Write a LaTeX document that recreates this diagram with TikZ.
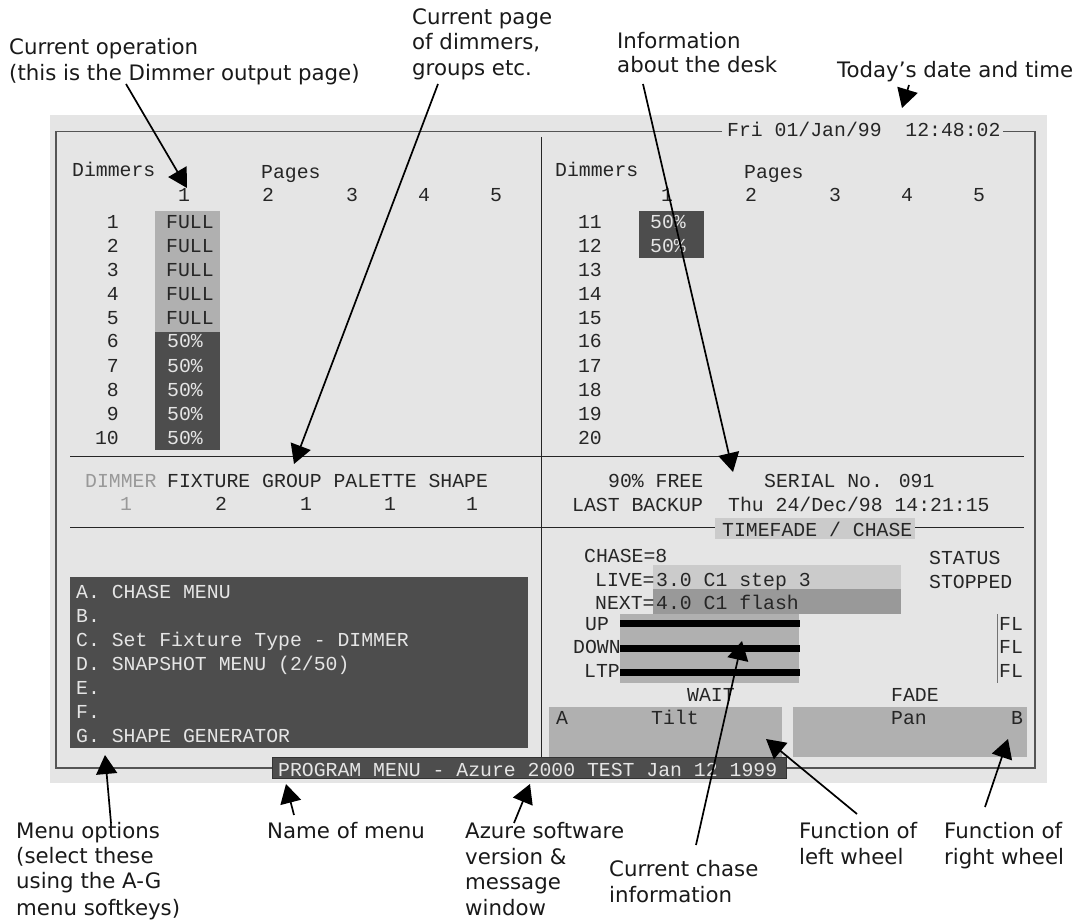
\documentclass[tikz,border=0pt]{standalone}
\usepackage{fontspec}
\setmainfont{DejaVu Sans}
\newfontfamily\scrfamily{Liberation Mono}
\usetikzlibrary{arrows.meta}
\definecolor{panelbg}{HTML}{E5E5E5}
\definecolor{lowgrey}{HTML}{B0B0B0}
\definecolor{darkgrey}{HTML}{4D4D4D}
\definecolor{livegrey}{HTML}{CBCBCB}
\definecolor{nextgrey}{HTML}{999999}
\definecolor{framegrey}{HTML}{555555}
\tikzset{
  x=1pt,y=-1pt,
  scr/.style={anchor=base west,inner sep=0pt,font=\scrfamily\fontsize{19.8}{24}\selectfont,text=black!85},
  scrw/.style={scr,text=panelbg},
  scrr/.style={scr,anchor=base east},
  lbl/.style={anchor=base west,inner sep=0pt,font=\fontsize{21.3}{25}\selectfont,text=black!90},
  rule/.style={draw=black!85,line width=0.9pt},
  framel/.style={draw=framegrey,line width=1.2pt},
  callout/.style={draw=black,line width=1.7pt,-{Triangle[length=19pt,width=21pt]},shorten <=0pt},
}
\begin{document}
\begin{tikzpicture}
\useasboundingbox (0,0) rectangle (1088,920);
% panel
\fill[panelbg] (50,115) rectangle (1047,783);
% filled areas
\fill[lowgrey] (155,211) rectangle (220,332);
\fill[darkgrey] (155,332) rectangle (220,450);
\fill[darkgrey] (639,211) rectangle (704,258);
\fill[darkgrey] (70,577) rectangle (528,748);
\fill[livegrey] (653,565) rectangle (901,589);
\fill[nextgrey] (653,589) rectangle (901,614);
\fill[lowgrey] (620,614) rectangle (799,683);
\fill[lowgrey] (549,707) rectangle (782,757);
\fill[lowgrey] (793,707) rectangle (1027,757);
% rules
\draw[framel] (722,131.5) -- (56,131.5) -- (56,768) -- (272,768);
\draw[framel] (786,768) -- (1035,768) -- (1035,131.5) -- (1003,131.5);
\draw[rule] (541,137) -- (541,757);
\draw[rule] (70,456) -- (1024,456);
\draw[rule] (70,527) -- (1024,527);
\draw[draw=black!55,line width=0.7pt] (997,614) -- (997,683);
\foreach \yy in {623,648,672} \fill[black] (620,\yy-3.5) rectangle (800,\yy+3.5);
\node[fill=livegrey,minimum width=200pt,minimum height=21pt,inner sep=0pt] (tfbox) at (815,528.5) {};
\node[fill=darkgrey,draw=black!80,line width=1pt,minimum width=514pt,minimum height=21pt,inner sep=0pt] (menubar) at (529,767.5) {};
% date
\node[scr] (date) at (727,137) {Fri 01/Jan/99~~12:48:02};
% left table
\node[scr] (dimL) at (72,177) {Dimmers};
\node[scr] (pagL) at (261,179) {Pages};
\node[scr] (pL1) at (178,202) {1};
\node[scr] (pL2) at (262,202) {2};
\node[scr] (pL3) at (346,202) {3};
\node[scr] (pL4) at (418,202) {4};
\node[scr] (pL5) at (490,202) {5};
\foreach \n/\yy in {1/229,2/253,3/277,4/301,5/325,6/348,7/372,8/396,9/420,10/444}
  \node[scrr] (rL\n) at (119,\yy) {\n};
\foreach \n/\yy in {1/229,2/253,3/277,4/301,5/325}
  \node[scr] (vL\n) at (166,\yy) {FULL};
\foreach \n/\yy in {6/348,7/372,8/396,9/420,10/444}
  \node[scrw] (vL\n) at (167,\yy) {50\%};
% right table
\node[scr] (dimR) at (555,177) {Dimmers};
\node[scr] (pagR) at (744,179) {Pages};
\node[scr] (pR1) at (661,202) {1};
\node[scr] (pR2) at (745,202) {2};
\node[scr] (pR3) at (829,202) {3};
\node[scr] (pR4) at (901,202) {4};
\node[scr] (pR5) at (973,202) {5};
\foreach \n/\yy in {11/229,12/253,13/277,14/301,15/325,16/348,17/372,18/396,19/420,20/444}
  \node[scrr] (rR\n) at (602,\yy) {\n};
\node[scrw] (vR1) at (650,229) {50\%};
\node[scrw] (vR2) at (650,253) {50\%};
% status rows
\node[scr,text=nextgrey] (sDim) at (85,487) {DIMMER};
\node[scr] (sRest) at (167,487) {FIXTURE GROUP PALETTE SHAPE};
\node[scr,text=nextgrey] (n1) at (120,510) {1};
\node[scr] (n2) at (215,510) {2};
\node[scr] (n3) at (300,510) {1};
\node[scr] (n4) at (384,510) {1};
\node[scr] (n5) at (466,510) {1};
\node[scr] (free) at (608,487) {90\% FREE};
\node[scr] (serial) at (764,487) {SERIAL No. 091};
\node[scr] (bkup) at (572,511) {LAST BACKUP};
\node[scr] (bkdate) at (728,511) {Thu 24/Dec/98 14:21:15};
\node[scr] (tf) at (722,536) {TIMEFADE / CHASE};
% chase
\node[scr] (chase) at (584,562) {CHASE=8};
\node[scr] (live) at (595,586) {LIVE=};
\node[scr] (livev) at (656,586) {3.0 C1 step 3};
\node[scr] (nxt) at (595,609) {NEXT=};
\node[scr] (nxtv) at (656,609) {4.0 C1 flash};
\node[scr] (stat) at (929,564) {STATUS};
\node[scr] (stop) at (929,588) {STOPPED};
\node[scr] (up) at (585,630) {UP};
\node[scr] (down) at (573,653) {DOWN};
\node[scr] (ltp) at (584,677) {LTP};
\node[scr] (fl1) at (999,630) {FL};
\node[scr] (fl2) at (999,653) {FL};
\node[scr] (fl3) at (999,677) {FL};
\node[scr] (wait) at (687,701) {WAIT};
\node[scr] (fade) at (891,701) {FADE};
\node[scr] (whA) at (556,724) {A};
\node[scr] (whT) at (651,724) {Tilt};
\node[scr] (whP) at (891,724) {Pan};
\node[scr] (whB) at (1011,724) {B};
% menu
\node[scrw] (mA) at (76,598) {A. CHASE MENU};
\node[scrw] (mB) at (76,622) {B.};
\node[scrw] (mC) at (76,646) {C. Set Fixture Type - DIMMER};
\node[scrw] (mD) at (76,670) {D. SNAPSHOT MENU (2/50)};
\node[scrw] (mE) at (76,694) {E.};
\node[scrw] (mF) at (76,718) {F.};
\node[scrw] (mG) at (76,742) {G. SHAPE GENERATOR};
\node[scrw] (banner) at (278,776) {PROGRAM MENU - Azure 2000 TEST Jan 12 1999};
% labels
\node[lbl] (l1a) at (9,55) {Current operation};
\node[lbl] (l1b) at (9,81) {(this is the Dimmer output page)};
\node[lbl] (l2a) at (412,25) {Current page};
\node[lbl] (l2b) at (412,50) {of dimmers,};
\node[lbl] (l2c) at (412,76) {groups etc.};
\node[lbl] (l3a) at (617,49) {Information};
\node[lbl] (l3b) at (617,73) {about the desk};
\node[lbl] (l4) at (837,78) {Today’s date and time};
\node[lbl] (l5a) at (16,838) {Menu options};
\node[lbl] (l5b) at (16,863) {(select these};
\node[lbl] (l5c) at (16,888) {using the A-G};
\node[lbl] (l5d) at (16,915) {menu softkeys)};
\node[lbl] (l6) at (267,838) {Name of menu};
\node[lbl] (l7a) at (465,838) {Azure software};
\node[lbl] (l7b) at (465,864) {version \&};
\node[lbl] (l7c) at (465,889) {message};
\node[lbl] (l7d) at (465,915) {window};
\node[lbl] (l8a) at (609,876) {Current chase};
\node[lbl] (l8b) at (609,902) {information};
\node[lbl] (l9a) at (799,838) {Function of};
\node[lbl] (l9b) at (799,864) {left wheel};
\node[lbl] (l10a) at (944,838) {Function of};
\node[lbl] (l10b) at (944,864) {right wheel};
% callouts
\coordinate (a1s) at (126,84);   \coordinate (a1t) at (187,188);
\coordinate (a2s) at (438,84);   \coordinate (a2t) at (294,464);
\coordinate (a3s) at (643,84);   \coordinate (a3t) at (733,472);
\coordinate (a4s) at (909,85);   \coordinate (a4t) at (902,108);
\coordinate (a5s) at (111,823);  \coordinate (a5t) at (105,755);
\coordinate (a6s) at (294,815);  \coordinate (a6t) at (286,784);
\coordinate (a7s) at (514,823);  \coordinate (a7t) at (530,784);
\coordinate (a8s) at (696,845);  \coordinate (a8t) at (742,641);
\coordinate (a9s) at (857,814);  \coordinate (a9t) at (766,739);
\coordinate (a10s) at (985,807); \coordinate (a10t) at (1008,739);
\foreach \k in {1,...,10} \draw[callout] (a\k s) -- (a\k t);
\end{tikzpicture}
\end{document}
